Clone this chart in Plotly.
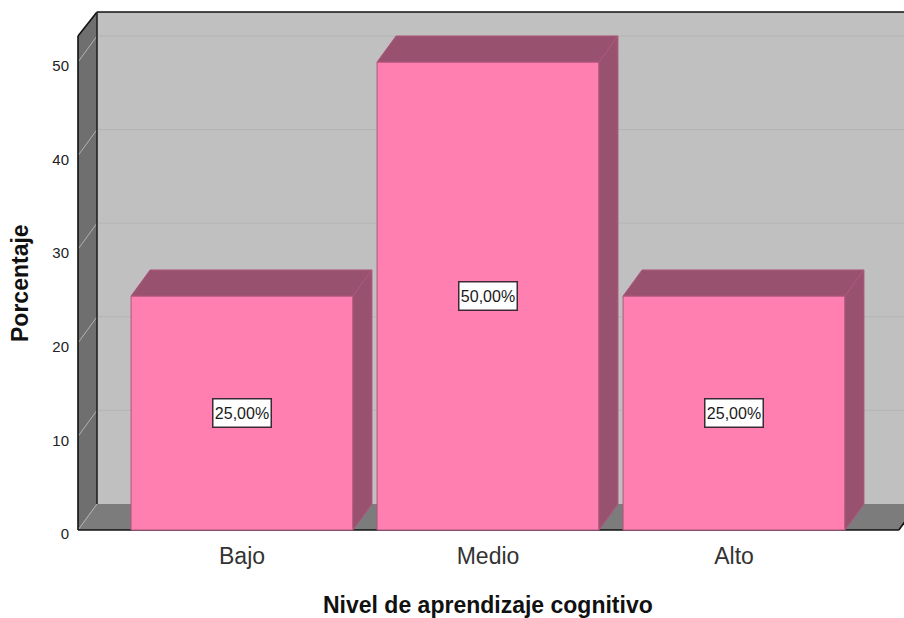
import plotly.graph_objects as go

# Data
categories = ["Bajo", "Medio", "Alto"]
percentages = [25.0, 50.0, 25.0]
value_labels = ["25,00%", "50,00%", "25,00%"]
y_ticks = [0, 10, 20, 30, 40, 50]

# Pseudo-3D geometry, in axis units
BAR_WIDTH = 0.902
DEPTH_X = 0.0772
DEPTH_Y = 2.78
WALL_LEFT = -0.6667
WALL_RIGHT = 2.67
WALL_TOP_FRONT = 52.78
WALL_TOP_BACK = 55.34

Y_RANGE = [-0.427, 55.77]
TICK_LABEL_DROP = 0.43  # tick labels sit slightly below their gridline ends

FRONT = "#ff7fb0"
SHADE = "#98516f"
EDGE = "#b0567c"
WALL = "#c0c0c0"
GRID = "#b4b4b4"
SIDE_WALL = "#6f6f6f"
FLOOR = "#7c7c7c"
INK = "#111111"


def polygon(points, fill):
    path = "M " + " L ".join(f"{x},{y}" for x, y in points) + " Z"
    return dict(type="path", path=path, xref="x", yref="y", layer="below",
                fillcolor=fill, line=dict(width=0))


def segment(x0, y0, x1, y1, color, width):
    return dict(type="line", x0=x0, y0=y0, x1=x1, y1=y1, xref="x", yref="y",
                layer="below", line=dict(color=color, width=width))


back_left = WALL_LEFT + DEPTH_X
back_right = WALL_RIGHT + DEPTH_X

shapes = [
    polygon([(back_left, DEPTH_Y), (back_right, DEPTH_Y),
             (back_right, WALL_TOP_BACK), (back_left, WALL_TOP_BACK)], WALL),
    polygon([(WALL_LEFT, 0), (back_left, DEPTH_Y),
             (back_left, WALL_TOP_BACK), (WALL_LEFT, WALL_TOP_FRONT)], SIDE_WALL),
    polygon([(WALL_LEFT, 0), (WALL_RIGHT, 0),
             (back_right, DEPTH_Y), (back_left, DEPTH_Y)], FLOOR),
]
# Gridlines run along the back wall and fold down the side wall
for tick in y_ticks:
    shapes.append(segment(WALL_LEFT, tick, back_left, tick + DEPTH_Y, "#b2b2b2", 1))
    if tick:
        shapes.append(segment(back_left, tick + DEPTH_Y, back_right, tick + DEPTH_Y, GRID, 1))
# Dark frame of the box
shapes += [
    segment(WALL_LEFT, 0, WALL_RIGHT, 0, INK, 1.6),
    segment(WALL_RIGHT, 0, back_right, DEPTH_Y, INK, 1.6),
    segment(WALL_LEFT, 0, WALL_LEFT, WALL_TOP_FRONT, INK, 1.6),
    segment(WALL_LEFT, WALL_TOP_FRONT, back_left, WALL_TOP_BACK, INK, 1.6),
    segment(back_left, WALL_TOP_BACK, back_right, WALL_TOP_BACK, INK, 1.6),
    segment(back_left, DEPTH_Y, back_left, WALL_TOP_BACK, "#222222", 1.6),
]

fig = go.Figure()

positions = list(range(len(categories)))
fig.add_trace(go.Bar(
    x=positions, y=percentages, width=BAR_WIDTH,
    marker=dict(color=FRONT, line=dict(color=EDGE, width=1)),
    hoverinfo="skip", showlegend=False,
))

# Top and side faces of each bar, derived from its value
for pos, value in zip(positions, percentages):
    left = pos - BAR_WIDTH / 2
    right = pos + BAR_WIDTH / 2
    fig.add_trace(go.Scatter(
        x=[left, right, right + DEPTH_X, left + DEPTH_X, left],
        y=[value, value, value + DEPTH_Y, value + DEPTH_Y, value],
        mode="lines", fill="toself", fillcolor=SHADE,
        line=dict(color=EDGE, width=1), hoverinfo="skip", showlegend=False,
    ))
    fig.add_trace(go.Scatter(
        x=[right, right + DEPTH_X, right + DEPTH_X, right, right],
        y=[0, DEPTH_Y, value + DEPTH_Y, value, 0],
        mode="lines", fill="toself", fillcolor=SHADE,
        line=dict(color=EDGE, width=1), hoverinfo="skip", showlegend=False,
    ))

# Empty trace that keeps the labelling axis alive
fig.add_trace(go.Scatter(x=[None], y=[None], yaxis="y2", mode="lines",
                         hoverinfo="skip", showlegend=False))

annotations = [
    dict(x=pos, y=value / 2, xref="x", yref="y", text=label, showarrow=False,
         font=dict(family="Liberation Sans", size=16, color="#1a1a1a"),
         width=55, height=25, align="center", valign="middle",
         bgcolor="#ffffff", bordercolor="#3a2a35", borderwidth=1.5, borderpad=1)
    for pos, value, label in zip(positions, percentages, value_labels)
]
# Axis titles sit in the margins, placed relative to the plotting area
annotations += [
    dict(x=(488 - 74) / 830, y=(534 - 605) / 526, xref="paper", yref="paper",
         xanchor="center", yanchor="middle",
         text="<b>Nivel de aprendizaje cognitivo</b>", showarrow=False,
         font=dict(family="Liberation Sans", size=23, color="#111111")),
    dict(x=(20 - 74) / 830, y=(534 - 283) / 526, xref="paper", yref="paper",
         xanchor="center", yanchor="middle",
         text="<b>Porcentaje</b>", textangle=-90, showarrow=False,
         font=dict(family="Liberation Sans", size=23, color="#111111")),
]

fig.update_layout(
    width=904, height=618,
    margin=dict(l=74, r=0, t=8, b=84),
    paper_bgcolor="#ffffff", plot_bgcolor="#ffffff",
    shapes=shapes, annotations=annotations, showlegend=False,
    xaxis=dict(range=[-0.683, 2.691], tickvals=positions, ticktext=categories,
               showgrid=False, zeroline=False, showline=False, ticks="",
               tickfont=dict(family="Liberation Sans", size=23, color="#333333"),
               ticklabelstandoff=6),
    yaxis=dict(range=Y_RANGE, showticklabels=False,
               showgrid=False, zeroline=False, showline=False, ticks=""),
    yaxis2=dict(range=[Y_RANGE[0] + TICK_LABEL_DROP, Y_RANGE[1] + TICK_LABEL_DROP],
                overlaying="y", side="left", tickvals=y_ticks,
                showgrid=False, zeroline=False, showline=False, ticks="",
                tickfont=dict(family="Liberation Sans", size=15, color="#222222"),
                ticklabelstandoff=4),
)

fig.write_html("out.html")
